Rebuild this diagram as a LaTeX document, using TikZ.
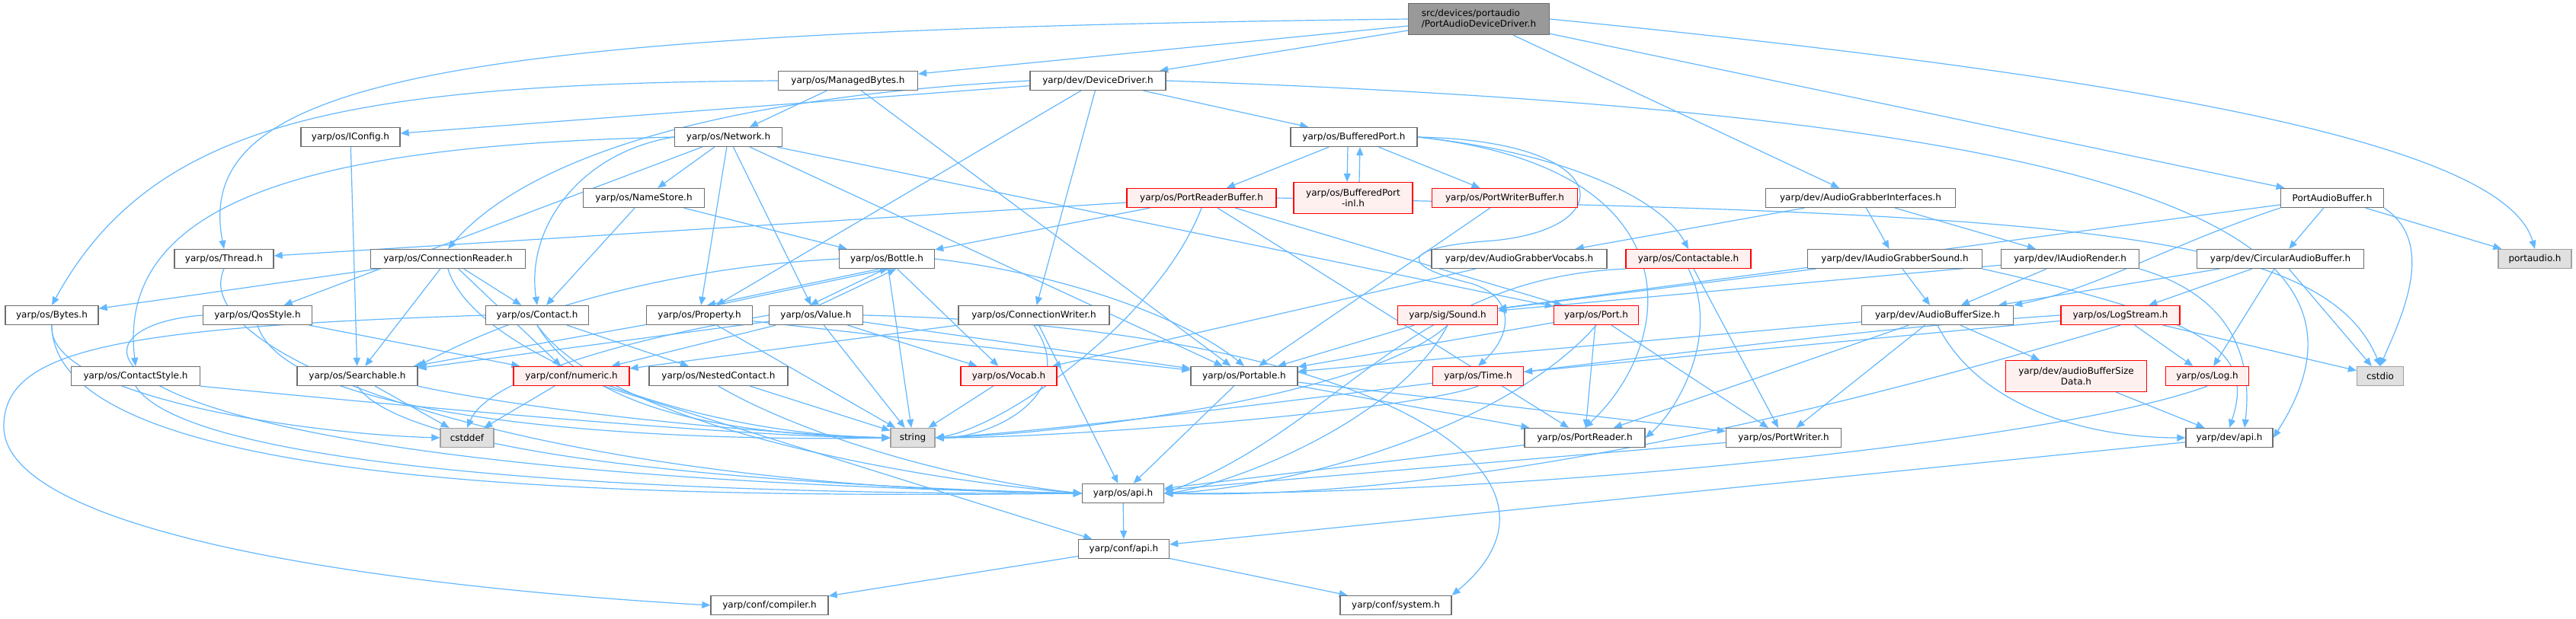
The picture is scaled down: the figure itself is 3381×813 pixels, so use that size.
\documentclass[tikz,border=0pt]{standalone}
\usepackage{fontspec}
\setmainfont{DejaVu Sans}
\usetikzlibrary{arrows.meta}
\definecolor{edgec}{RGB}{99,184,255}
\definecolor{bordc}{RGB}{110,110,110}
\definecolor{redfill}{RGB}{255,240,240}
\definecolor{extfill}{RGB}{224,224,224}
\definecolor{extbord}{RGB}{160,160,160}
\definecolor{rootfill}{RGB}{153,153,153}
\pgfdeclarelayer{bglayer}
\pgfdeclarelayer{edgelayer}
\pgfsetlayers{bglayer,edgelayer,main}
\begin{document}
\begin{tikzpicture}[x=1pt,y=-1pt,
  nbox/.style={draw=bordc,fill=white,line width=1.3pt,minimum height=25pt,inner xsep=4pt,inner ysep=2pt,font=\fontsize{12pt}{14pt}\selectfont},
  rbox/.style={nbox,draw=red,fill=redfill},
  xbox/.style={nbox,draw=extbord,fill=extfill},
  rootbox/.style={nbox,fill=rootfill,align=left,minimum height=41pt},
  edg/.style={draw=edgec,line width=1.2pt,-{Triangle[length=11pt,width=9pt]}}]
\begin{pgfonlayer}{bglayer}
\fill[white] (0,0) rectangle (3381,813);
\end{pgfonlayer}
\path[use as bounding box] (0,0) rectangle (3381,813);

% nodes
\node[rootbox,minimum width=185pt] (r0) at (1941,25) {src/devices/portaudio\\/PortAudioDeviceDriver.h};
\node[nbox,minimum width=183pt] (mb) at (1113,106) {yarp/os/ManagedBytes.h};
\node[nbox,minimum width=178pt] (dd) at (1441,106) {yarp/dev/DeviceDriver.h};
\node[nbox,minimum width=130pt] (ic) at (460,180) {yarp/os/IConfig.h};
\node[nbox,minimum width=141pt] (nw) at (956,180) {yarp/os/Network.h};
\node[nbox,minimum width=166pt] (bp) at (1777,180) {yarp/os/BufferedPort.h};
\node[nbox,minimum width=159pt] (ns) at (845,260) {yarp/os/NameStore.h};
\node[rbox,minimum width=196pt] (prb) at (1577,260) {yarp/os/PortReaderBuffer.h};
\node[rbox,minimum width=156pt,minimum height=41pt,align=center] (bpi) at (1776,260) {yarp/os/BufferedPort\\-inl.h};
\node[rbox,minimum width=191pt] (pwb) at (1975,260) {yarp/os/PortWriterBuffer.h};
\node[nbox,minimum width=249pt] (agi) at (2442,260) {yarp/dev/AudioGrabberInterfaces.h};
\node[nbox,minimum width=135pt] (pab) at (3061,260) {PortAudioBuffer.h};
\node[nbox,minimum width=130pt] (th) at (294,340) {yarp/os/Thread.h};
\node[nbox,minimum width=203pt] (cr) at (588,340) {yarp/os/ConnectionReader.h};
\node[nbox,minimum width=125pt] (bo) at (1164,340) {yarp/os/Bottle.h};
\node[nbox,minimum width=230pt] (agv) at (1994,340) {yarp/dev/AudioGrabberVocabs.h};
\node[rbox,minimum width=164pt] (ctb) at (2216,340) {yarp/os/Contactable.h};
\node[nbox,minimum width=229pt] (igs) at (2487,340) {yarp/dev/IAudioGrabberSound.h};
\node[nbox,minimum width=181pt] (iar) at (2717,340) {yarp/dev/IAudioRender.h};
\node[nbox,minimum width=219pt] (cab) at (2993,340) {yarp/dev/CircularAudioBuffer.h};
\node[xbox,minimum width=96pt] (pa) at (3327,340) {portaudio.h};
\node[nbox,minimum width=122pt] (by) at (68,414) {yarp/os/Bytes.h};
\node[nbox,minimum width=143pt] (qs) at (338,414) {yarp/os/QosStyle.h};
\node[nbox,minimum width=135pt] (co) at (705,414) {yarp/os/Contact.h};
\node[nbox,minimum width=139pt] (pr) at (918,414) {yarp/os/Property.h};
\node[nbox,minimum width=123pt] (va) at (1071,414) {yarp/os/Value.h};
\node[nbox,minimum width=198pt] (cw) at (1357,414) {yarp/os/ConnectionWriter.h};
\node[rbox,minimum width=131pt] (so) at (1900,414) {yarp/sig/Sound.h};
\node[rbox,minimum width=111pt] (po) at (2095,414) {yarp/os/Port.h};
\node[nbox,minimum width=199pt] (abs) at (2543,414) {yarp/dev/AudioBufferSize.h};
\node[rbox,minimum width=156pt] (ls) at (2783,414) {yarp/os/LogStream.h};
\node[nbox,minimum width=169pt] (cs) at (178,494) {yarp/os/ContactStyle.h};
\node[nbox,minimum width=158pt] (se) at (469,494) {yarp/os/Searchable.h};
\node[rbox,minimum width=152pt] (nu) at (750,494) {yarp/conf/numeric.h};
\node[nbox,minimum width=182pt] (nc) at (943,494) {yarp/os/NestedContact.h};
\node[rbox,minimum width=126pt] (vo) at (1324,494) {yarp/os/Vocab.h};
\node[nbox,minimum width=140pt] (pt) at (1633,494) {yarp/os/Portable.h};
\node[rbox,minimum width=119pt] (ti) at (1940,494) {yarp/os/Time.h};
\node[rbox,minimum width=185pt,minimum height=41pt,align=center] (absd) at (2725,494) {yarp/dev/audioBufferSize\\Data.h};
\node[rbox,minimum width=109pt] (lg) at (2897,494) {yarp/os/Log.h};
\node[xbox,minimum width=61pt] (cio) at (3124,494) {cstdio};
\node[xbox,minimum width=70pt] (cdf) at (613,575) {cstddef};
\node[xbox,minimum width=58pt] (str) at (1198,575) {string};
\node[nbox,minimum width=158pt] (prd) at (2080,575) {yarp/os/PortReader.h};
\node[nbox,minimum width=151pt] (pwr) at (2341,575) {yarp/os/PortWriter.h};
\node[nbox,minimum width=114pt] (dapi) at (2926,575) {yarp/dev/api.h};
\node[nbox,minimum width=107pt] (oapi) at (1474,648) {yarp/os/api.h};
\node[nbox,minimum width=119pt] (capi) at (1475,721) {yarp/conf/api.h};
\node[nbox,minimum width=154pt] (cmp) at (1010,795) {yarp/conf/compiler.h};
\node[nbox,minimum width=146pt] (sys) at (1832,795) {yarp/conf/system.h};

\begin{pgfonlayer}{edgelayer}
% root
\draw[edg] (r0) -- (mb);
\draw[edg] (r0) -- (dd);
\draw[edg] (r0.west) .. controls (600,40) and (250,100) .. (th.north);
\draw[edg] (r0) -- (agi);
\draw[edg] (r0) -- (pab);
\draw[edg] (r0.east) .. controls (2900,110) and (3290,200) .. (pa.north);
% ManagedBytes
\draw[edg] (mb.west) .. controls (450,110) and (200,160) .. (by.north);
\draw[edg] (mb) -- (nw);
\draw[edg] (mb) -- (pt);
% DeviceDriver
\draw[edg] (dd) -- (ic);
\draw[edg] (dd.west) .. controls (900,130) and (680,220) .. (cr.north);
\draw[edg] (dd) -- (pr);
\draw[edg] (dd) -- (cw);
\draw[edg] (dd) -- (bp);
\draw[edg] (dd.east) .. controls (2800,150) and (3160,300) .. (dapi.east);
% IConfig
\draw[edg] (ic) -- (se);
% Network
\draw[edg] (nw) -- (ns);
\draw[edg] (nw.west) .. controls (760,200) and (690,300) .. (co.north);
\draw[edg] (nw) -- (qs);
\draw[edg] (nw.west) .. controls (450,190) and (150,250) .. (cs.north);
\draw[edg] (nw) -- (pr);
\draw[edg] (nw) -- (va);
\draw[edg] (nw) -- (pt);
\draw[edg] (nw) -- (po);
% NameStore
\draw[edg] (ns) -- (bo);
\draw[edg] (ns) -- (co);
% BufferedPort
\draw[edg] (bp) -- (prb);
\draw[edg] ([xshift=-8pt]bp.south) -- ([xshift=-8pt]bpi.north);
\draw[edg] ([xshift=8pt]bpi.north) -- ([xshift=8pt]bp.south);
\draw[edg] (bp) -- (pwb);
\draw[edg] (bp.east) .. controls (2050,200) and (2180,260) .. (ctb.north);
\draw[edg] (bp.east) .. controls (2120,185) and (2130,300) .. (1960,316) .. controls (1830,325) and (1840,350) .. (1930,372) .. controls (1990,390) and (1985,440) .. (ti.north);
\draw[edg] (bp.east) .. controls (2230,220) and (2200,450) .. (prd.north);
% PortReaderBuffer
\draw[edg] (prb) -- (th);
\draw[edg] (prb) -- (bo);
\draw[edg] (prb.south) .. controls (1520,420) and (1320,560) .. (str.east);
\draw[edg] (prb) -- (po);
\draw[edg] (prb) -- (prd);
\draw[edg] (prb.east) .. controls (2700,280) and (3050,300) .. (cio.north);
% PortWriterBuffer
\draw[edg] (pwb) -- (pt);
% AudioGrabberInterfaces
\draw[edg] (agi) -- (agv);
\draw[edg] (agi) -- (igs);
\draw[edg] (agi) -- (iar);
% PortAudioBuffer
\draw[edg] (pab) -- (pa);
\draw[edg] (pab) -- (cab);
\draw[edg] (pab.south west) .. controls (2850,320) and (2750,380) .. (abs.north east);
\draw[edg] (pab.south east) .. controls (3200,320) and (3150,420) .. (cio.north);
\draw[edg] (pab) -- (so);
% Thread, ConnectionReader
\draw[edg] (th.south) .. controls (240,470) and (700,640) .. (oapi.west);
\draw[edg] (cr) -- (by);
\draw[edg] (cr) -- (co);
\draw[edg] (cr) -- (se);
\draw[edg] (cr) -- (nu);
\draw[edg] (cr.south) .. controls (620,460) and (900,570) .. (str.west);
% Bottle cycle
\draw[edg] ([xshift=-10pt]bo.south) -- ([xshift=10pt]pr.north);
\draw[edg] ([xshift=22pt]pr.north) -- ([xshift=2pt]bo.south);
\draw[edg] ([xshift=-2pt]bo.south) -- ([xshift=-8pt]va.north);
\draw[edg] ([xshift=4pt]va.north) -- ([xshift=12pt]bo.south);
\draw[edg] (bo) -- (str);
\draw[edg] (bo) -- (vo);
\draw[edg] (bo.east) .. controls (1400,360) and (1560,420) .. (pt.north);
\draw[edg] (bo.west) .. controls (900,350) and (700,400) .. (se.north east);
% Contact
\draw[edg] (co) -- (nc);
\draw[edg] (co.south) .. controls (760,520) and (900,570) .. (str.west);
\draw[edg] (co.south) .. controls (800,560) and (1200,630) .. (oapi.west);
\draw[edg] (co.west) .. controls (150,430) and (5,460) .. (5,560) .. controls (5,700) and (500,770) .. (cmp.west);
% QosStyle, Bytes, ContactStyle, Searchable
\draw[edg] (qs) -- (nu);
\draw[edg] (qs.south) .. controls (380,560) and (900,580) .. (str.west);
\draw[edg] (qs.west) .. controls (60,430) and (60,620) .. (oapi.west);
\draw[edg] (by.south) .. controls (60,520) and (400,570) .. (cdf.west);
\draw[edg] (by.south) .. controls (70,640) and (800,655) .. (oapi.west);
\draw[edg] (cs.south east) .. controls (600,540) and (1000,575) .. (str.west);
\draw[edg] (cs.south) .. controls (250,620) and (900,650) .. (oapi.west);
\draw[edg] (se) -- (cdf);
\draw[edg] (se.south east) .. controls (700,540) and (1000,570) .. (str.west);
\draw[edg] (se.south) .. controls (540,610) and (1100,640) .. (oapi.west);
% numeric
\draw[edg] (nu) -- (cdf);
\draw[edg] (nu) -- (capi);
% Property, Value
\draw[edg] (pr) -- (se);
\draw[edg] (pr) -- (str);
\draw[edg] (pr) -- (pt);
\draw[edg] (va) -- (se);
\draw[edg] (va) -- (nu);
\draw[edg] (va) -- (str);
\draw[edg] (va) -- (vo);
\draw[edg] (va) -- (pt);
\draw[edg] (va.west) .. controls (800,450) and (640,500) .. (cdf.north);
\draw[edg] (va.east) .. controls (1800,430) and (2100,620) .. (sys.north east);
% ConnectionWriter
\draw[edg] (cw) -- (nu);
\draw[edg] (cw.south) .. controls (1420,520) and (1300,575) .. (str.east);
\draw[edg] (cw) -- (oapi);
% NestedContact, Vocab, Portable
\draw[edg] (nc) -- (str);
\draw[edg] (nc.south) .. controls (1050,570) and (1250,630) .. (oapi.west);
\draw[edg] (vo) -- (str);
\draw[edg] (pt) -- (oapi);
\draw[edg] (pt) -- (prd);
\draw[edg] (pt) -- (pwr);
% Sound, Port, Time, Contactable
\draw[edg] (so) -- (pt);
\draw[edg] (so.south) .. controls (1800,520) and (1400,570) .. (str.east);
\draw[edg] (so.south) .. controls (1830,560) and (1600,640) .. (oapi.east);
\draw[edg] (po) -- (pt);
\draw[edg] (po) -- (prd);
\draw[edg] (po) -- (pwr);
\draw[edg] (po.south) .. controls (1980,560) and (1700,640) .. (oapi.east);
\draw[edg] (ti.south) .. controls (1850,540) and (1400,575) .. (str.east);
\draw[edg] (ctb.south) .. controls (2260,440) and (2200,540) .. (prd.east);
\draw[edg] (ctb) -- (pwr);
\draw[edg] (ctb.south west) .. controls (1850,365) and (1760,560) .. (oapi.east);
\draw[edg] (agv) -- (vo);
% audio devices
\draw[edg] (igs) -- (so);
\draw[edg] (igs) -- (abs);
\draw[edg] (igs.south east) .. controls (2900,420) and (2960,460) .. (dapi.north);
\draw[edg] (iar) -- (so);
\draw[edg] (iar) -- (abs);
\draw[edg] (iar.south east) .. controls (2900,380) and (2960,440) .. ([xshift=20pt]dapi.north);
\draw[edg] (cab) -- (abs);
\draw[edg] (cab) -- (ls);
\draw[edg] (cab) -- (lg);
\draw[edg] (cab) -- (cio);
\draw[edg] (abs) -- (absd);
\draw[edg] (abs.south) .. controls (2600,540) and (2750,575) .. (dapi.west);
\draw[edg] (abs) -- (pwr);
\draw[edg] (abs) -- (prd);
\draw[edg] (abs) -- (pt);
\draw[edg] (ls) -- (lg);
\draw[edg] (ls) -- (cio);
\draw[edg] (ls) -- (ti);
\draw[edg] (ls.west) .. controls (2300,440) and (1500,560) .. (str.east);
\draw[edg] (ls.south) .. controls (2600,480) and (2000,660) .. (oapi.east);
\draw[edg] (absd) -- (dapi);
\draw[edg] (lg.south) .. controls (2700,580) and (2000,650) .. (oapi.east);
% bottom
\draw[edg] (prd) -- (oapi);
\draw[edg] (pwr) -- (oapi);
\draw[edg] (dapi) -- (capi);
\draw[edg] (oapi) -- (capi);
\draw[edg] (capi) -- (cmp);
\draw[edg] (capi) -- (sys);
\end{pgfonlayer}
\end{tikzpicture}
\end{document}
